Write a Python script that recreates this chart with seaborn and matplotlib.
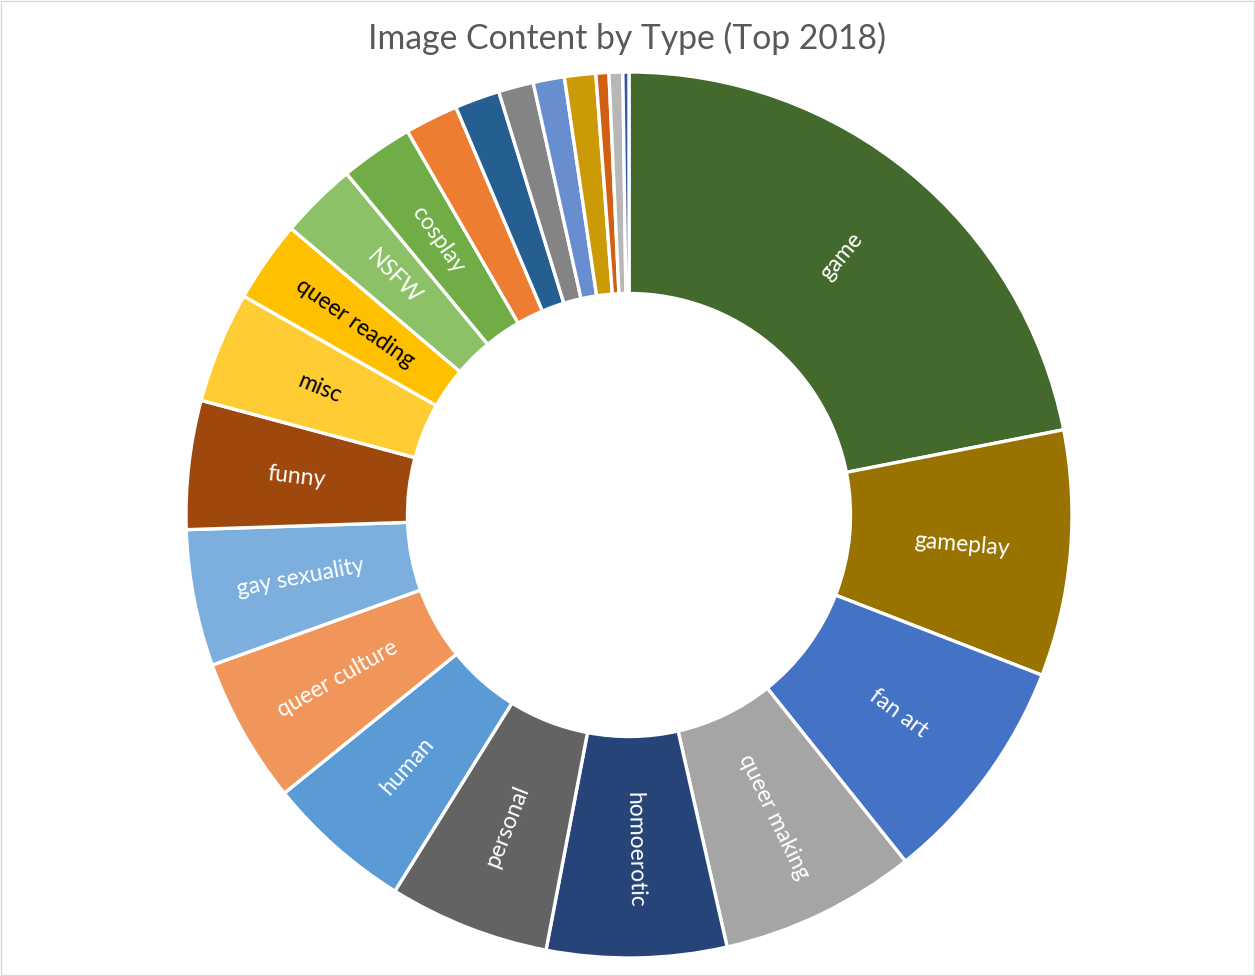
import numpy as np
import matplotlib
matplotlib.use("Agg")
import matplotlib.pyplot as plt
import seaborn as sns

labels = ["game", "gameplay", "fan art", "queer making", "homoerotic", "personal",
          "human", "queer culture", "gay sexuality", "funny", "misc", "queer reading",
          "NSFW", "cosplay", "", "", "", "", "", "", "", ""]
values = [78.9, 32.3, 30.2, 25.8, 23.6, 21.1, 19.2, 19.1, 17.9, 16.9, 14.6, 10.7,
          10.1, 9.6, 7.0, 5.9, 4.6, 4.1, 4.1, 1.7, 1.8, 0.8]
colors = ["#436A2C", "#987300", "#4472C4", "#A5A5A5", "#264478", "#636363",
          "#5B9BD5", "#F0965A", "#7CAFDD", "#9E480E", "#FFCD33", "#FFC000",
          "#8CC168", "#70AD47", "#ED7D31", "#255E91", "#848484", "#698ED0",
          "#CC9A06", "#D26012", "#B7B7B7", "#335AA1"]
text_colors = ["white"] * 10 + ["black", "black"] + ["white"] * 10

sns.set_theme(style="white")
plt.rcParams['font.family'] = ['Lato', 'DejaVu Sans']

W, H = 1255, 976
fig = plt.figure(figsize=(W / 100, H / 100), dpi=100)
fig.patch.set_facecolor("white")

cx, cy, R = 629, 515, 443
ax = fig.add_axes([(cx - R) / W, (H - cy - R) / H, 2 * R / W, 2 * R / H])
ax.set_aspect("equal")

wedges, _ = ax.pie(values, colors=colors, startangle=90, counterclock=False,
                   radius=1.0, wedgeprops=dict(width=0.5, edgecolor="white", linewidth=2.4))
ax.set_xlim(-1, 1)
ax.set_ylim(-1, 1)
ax.axis("off")

total = sum(values)
cum = 0.0
for lab, v, tc in zip(labels, values, text_colors):
    mid = cum + v / 2
    cum += v
    if not lab:
        continue
    theta = mid / total * 360.0  # clockwise from top
    a = np.deg2rad(90 - theta)
    r = 0.755
    x, y = r * np.cos(a), r * np.sin(a)
    rot = 90 - theta
    while rot > 90:
        rot -= 180
    while rot < -90:
        rot += 180
    ax.text(x, y, lab, rotation=rot, rotation_mode="anchor", ha="center", va="center",
            color=tc, fontsize=16.5)

fig.text(0.5, 1 - 38 / H, "Image Content by Type (Top 2018)", ha="center", va="center",
         color="#595959", fontsize=24.3)

border = plt.Rectangle((0.001, 0.001), 0.998, 0.998, transform=fig.transFigure,
                       fill=False, edgecolor="#D9D9D9", linewidth=1.0)
fig.patches.append(border)

fig.savefig("out.png", dpi=100)
